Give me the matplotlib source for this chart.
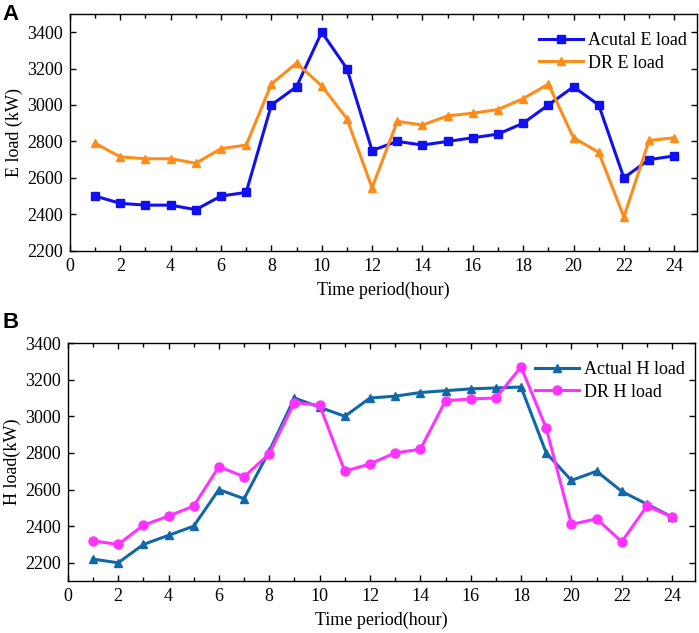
import matplotlib.pyplot as plt

# ------------------------------------------------------------
# Data
# ------------------------------------------------------------

hours = list(range(1, 25))

actual_e = [2500, 2460, 2450, 2450, 2425, 2500, 2520, 3000, 3100, 3400, 3200, 2750,
            2800, 2780, 2800, 2820, 2840, 2900, 3000, 3100, 3000, 2600, 2700, 2720]
dr_e = [2790, 2715, 2705, 2705, 2680, 2760, 2780, 3115, 3230, 3105, 2925, 2545,
        2910, 2890, 2940, 2955, 2975, 3035, 3115, 2820, 2740, 2385, 2805, 2820]

actual_h = [2220, 2200, 2300, 2350, 2400, 2600, 2550, 2810, 3100, 3050, 3000, 3100,
            3110, 3130, 3140, 3150, 3155, 3160, 2800, 2650, 2700, 2590, 2520, 2450]
dr_h = [2320, 2300, 2405, 2455, 2510, 2725, 2670, 2795, 3075, 3060, 2700, 2740,
        2800, 2820, 3085, 3095, 3100, 3270, 2935, 2410, 2440, 2315, 2510, 2450]

x_ticks = list(range(0, 25, 2))
y_ticks = list(range(2200, 3401, 200))

# ------------------------------------------------------------
# Plot
# ------------------------------------------------------------

plt.rcParams["font.family"] = ["Liberation Serif", "DejaVu Serif"]
plt.rcParams["font.size"] = 13

fig = plt.figure(figsize=(6.99, 6.33), dpi=100)
ax1 = fig.add_axes([0.100, 0.604, 0.897, 0.374])
ax2 = fig.add_axes([0.097, 0.082, 0.897, 0.376])


def style_axis(ax, ylim, ylabel):
    ax.set_xlim(0, 24.9)
    ax.set_ylim(*ylim)
    ax.set_xticks(x_ticks)
    ax.set_xticks(range(1, 25, 2), minor=True)
    ax.set_yticks(y_ticks)
    ax.tick_params(direction="in", which="both", top=True, right=True,
                   labelsize=13, length=4, width=1, pad=5)
    ax.tick_params(which="minor", length=3)
    ax.set_xlabel("Time period(hour)", fontsize=13, labelpad=5)
    ax.set_ylabel(ylabel, fontsize=13, labelpad=3)
    for sp in ax.spines.values():
        sp.set_linewidth(1.0)
    ax.legend(loc="upper right", bbox_to_anchor=(1.0, 0.965), frameon=False,
              fontsize=13, handlelength=2.4, borderaxespad=0.15,
              labelspacing=0.3, handletextpad=0.3)


ax1.plot(hours, actual_e, color="#1010f0", lw=2.2, marker="s", ms=5.5,
         label="Acutal E load")
ax1.plot(hours, dr_e, color="#ff8c1a", lw=2.2, marker="^", ms=6,
         label="DR E load")
style_axis(ax1, (2200, 3500), "E load (kW)")

ax2.plot(hours, actual_h, color="#1168a8", lw=2.2, marker="^", ms=6,
         label="Actual H load")
ax2.plot(hours, dr_h, color="#ff33ff", lw=2.2, marker="o", ms=6.5,
         label="DR H load")
style_axis(ax2, (2100, 3400), "H load(kW)")

fig.text(0.003, 0.993, "A", fontsize=16, fontweight="bold",
         family="Liberation Sans", va="top")
fig.text(0.003, 0.507, "B", fontsize=16, fontweight="bold",
         family="Liberation Sans", va="top")

fig.savefig("out.png", dpi=100)
plt.close(fig)
